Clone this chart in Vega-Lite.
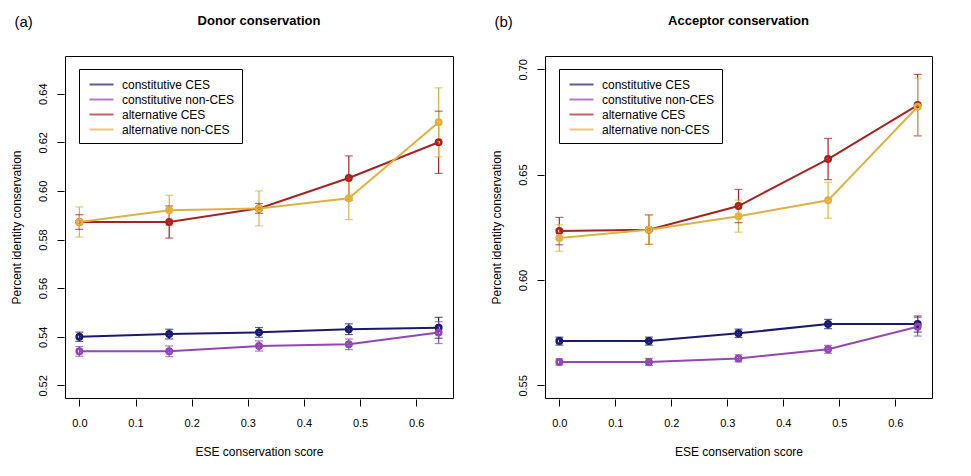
{
  "$schema": "https://vega.github.io/schema/vega-lite/v6.json",
  "background": "white",
  "padding": {"left": 9, "top": 14, "right": 5, "bottom": 5},
  "spacing": 35,
  "config": {
    "font": "Liberation Sans",
    "view": {"stroke": "black", "strokeWidth": 1},
    "axis": {"grid": false, "domain": false, "tickColor": "black", "tickSize": 7, "tickOffset": 0, "labelColor": "black", "titleColor": "black", "labelFontSize": 11, "titleFontSize": 12, "titleFontWeight": "normal", "labelFont": "Liberation Sans", "titleFont": "Liberation Sans"},
    "legend": {"title": null, "orient": "none", "legendX": 14, "legendY": 13, "direction": "vertical", "symbolType": "M-1.6,0L1.6,0", "symbolSize": 225, "symbolStrokeWidth": 2, "symbolOffset": 7, "labelFontSize": 12, "labelFont": "Liberation Sans", "labelColor": "black", "strokeColor": "black", "fillColor": "white", "padding": 7, "rowPadding": 0, "labelOffset": 12, "labelLimit": 300},
    "title": {"color": "black"}
  },
  "datasets": {
    "donor": [
      {"group": "constitutive CES", "score": 0, "value": 0.5400, "lo": 0.5381, "hi": 0.5419},
      {"group": "constitutive CES", "score": 0.16, "value": 0.5411, "lo": 0.5391, "hi": 0.5431},
      {"group": "constitutive CES", "score": 0.32, "value": 0.5418, "lo": 0.5398, "hi": 0.5438},
      {"group": "constitutive CES", "score": 0.48, "value": 0.5431, "lo": 0.5409, "hi": 0.5453},
      {"group": "constitutive CES", "score": 0.64, "value": 0.5437, "lo": 0.5394, "hi": 0.5480},
      {"group": "constitutive non-CES", "score": 0, "value": 0.5340, "lo": 0.5320, "hi": 0.5360},
      {"group": "constitutive non-CES", "score": 0.16, "value": 0.5340, "lo": 0.5318, "hi": 0.5362},
      {"group": "constitutive non-CES", "score": 0.32, "value": 0.5362, "lo": 0.5341, "hi": 0.5383},
      {"group": "constitutive non-CES", "score": 0.48, "value": 0.5369, "lo": 0.5347, "hi": 0.5391},
      {"group": "constitutive non-CES", "score": 0.64, "value": 0.5417, "lo": 0.5372, "hi": 0.5462},
      {"group": "alternative CES", "score": 0, "value": 0.5872, "lo": 0.5842, "hi": 0.5902},
      {"group": "alternative CES", "score": 0.16, "value": 0.5872, "lo": 0.5806, "hi": 0.5938},
      {"group": "alternative CES", "score": 0.32, "value": 0.5928, "lo": 0.5908, "hi": 0.5948},
      {"group": "alternative CES", "score": 0.48, "value": 0.6053, "lo": 0.5962, "hi": 0.6144},
      {"group": "alternative CES", "score": 0.64, "value": 0.6200, "lo": 0.6072, "hi": 0.6328},
      {"group": "alternative non-CES", "score": 0, "value": 0.5872, "lo": 0.5810, "hi": 0.5934},
      {"group": "alternative non-CES", "score": 0.16, "value": 0.5920, "lo": 0.5858, "hi": 0.5982},
      {"group": "alternative non-CES", "score": 0.32, "value": 0.5928, "lo": 0.5856, "hi": 0.6000},
      {"group": "alternative non-CES", "score": 0.48, "value": 0.5970, "lo": 0.5882, "hi": 0.6058},
      {"group": "alternative non-CES", "score": 0.64, "value": 0.6282, "lo": 0.6140, "hi": 0.6424}
    ],
    "acceptor": [
      {"group": "constitutive CES", "score": 0, "value": 0.5710, "lo": 0.5691, "hi": 0.5729},
      {"group": "constitutive CES", "score": 0.16, "value": 0.5710, "lo": 0.5691, "hi": 0.5729},
      {"group": "constitutive CES", "score": 0.32, "value": 0.5747, "lo": 0.5727, "hi": 0.5767},
      {"group": "constitutive CES", "score": 0.48, "value": 0.5791, "lo": 0.5769, "hi": 0.5813},
      {"group": "constitutive CES", "score": 0.64, "value": 0.5791, "lo": 0.5753, "hi": 0.5829},
      {"group": "constitutive non-CES", "score": 0, "value": 0.5611, "lo": 0.5596, "hi": 0.5626},
      {"group": "constitutive non-CES", "score": 0.16, "value": 0.5611, "lo": 0.5594, "hi": 0.5628},
      {"group": "constitutive non-CES", "score": 0.32, "value": 0.5628, "lo": 0.5611, "hi": 0.5645},
      {"group": "constitutive non-CES", "score": 0.48, "value": 0.5671, "lo": 0.5652, "hi": 0.5690},
      {"group": "constitutive non-CES", "score": 0.64, "value": 0.5778, "lo": 0.5734, "hi": 0.5822},
      {"group": "alternative CES", "score": 0, "value": 0.6232, "lo": 0.6167, "hi": 0.6297},
      {"group": "alternative CES", "score": 0.16, "value": 0.6239, "lo": 0.6169, "hi": 0.6309},
      {"group": "alternative CES", "score": 0.32, "value": 0.6351, "lo": 0.6272, "hi": 0.6430},
      {"group": "alternative CES", "score": 0.48, "value": 0.6574, "lo": 0.6476, "hi": 0.6672},
      {"group": "alternative CES", "score": 0.64, "value": 0.6830, "lo": 0.6684, "hi": 0.6976},
      {"group": "alternative non-CES", "score": 0, "value": 0.6199, "lo": 0.6136, "hi": 0.6262},
      {"group": "alternative non-CES", "score": 0.16, "value": 0.6239, "lo": 0.6169, "hi": 0.6309},
      {"group": "alternative non-CES", "score": 0.32, "value": 0.6303, "lo": 0.6227, "hi": 0.6379},
      {"group": "alternative non-CES", "score": 0.48, "value": 0.6378, "lo": 0.6293, "hi": 0.6463},
      {"group": "alternative non-CES", "score": 0.64, "value": 0.6822, "lo": 0.6686, "hi": 0.6958}
    ]
  },
  "resolve": {"scale": {"y": "independent", "color": "independent", "x": "independent"}, "legend": {"color": "independent"}},
  "hconcat": [
    {
      "title": {"text": "(a)", "anchor": "start", "frame": "bounds", "fontSize": 15, "fontWeight": "normal", "font": "Liberation Sans", "dx": 5, "offset": -15},
      "vconcat": [
        {
          "title": {"text": "Donor conservation", "anchor": "middle", "fontSize": 13, "fontWeight": "bold", "font": "Liberation Sans", "offset": 28},
          "width": 388,
          "height": 342,
          "data": {"name": "donor"},
          "encoding": {
            "x": {"field": "score", "type": "quantitative", "scale": {"domain": [-0.0256, 0.6656], "nice": false, "zero": false},
              "axis": {"values": [0, 0.1, 0.2, 0.3, 0.4, 0.5, 0.6], "format": ".1f", "title": "ESE conservation score", "offset": 1, "labelPadding": 11, "titlePadding": 18}},
            "color": {"field": "group", "type": "nominal",
              "scale": {"domain": ["constitutive CES", "constitutive non-CES", "alternative CES", "alternative non-CES"], "range": ["#1a1a6e", "#9446b4", "#a82222", "#e0b040"]}}
          },
          "layer": [
            {"mark": {"type": "rule", "strokeWidth": 1.2},
             "encoding": {"y": {"field": "lo", "type": "quantitative", "scale": {"domain": [0.5148, 0.6555], "nice": false, "zero": false},
                "axis": {"values": [0.52, 0.54, 0.56, 0.58, 0.6, 0.62, 0.64], "format": ".2f", "title": "Percent identity conservation", "labelAngle": -90, "labelAlign": "center", "labelBaseline": "bottom", "offset": 1, "labelPadding": 9, "titlePadding": 14}},
               "y2": {"field": "hi"}}},
            {"mark": {"type": "tick", "orient": "horizontal", "size": 8, "thickness": 1.2},
             "encoding": {"y": {"field": "lo", "type": "quantitative"}}},
            {"mark": {"type": "tick", "orient": "horizontal", "size": 8, "thickness": 1.2},
             "encoding": {"y": {"field": "hi", "type": "quantitative"}}},
            {"mark": {"type": "line", "strokeWidth": 2},
             "encoding": {"y": {"field": "value", "type": "quantitative"}}},
            {"mark": {"type": "point", "filled": false, "strokeWidth": 2.5, "size": 30, "opacity": 1},
             "encoding": {"y": {"field": "value", "type": "quantitative"}}}
          ]
        }
      ]
    },
    {
      "title": {"text": "(b)", "anchor": "start", "frame": "bounds", "fontSize": 15, "fontWeight": "normal", "font": "Liberation Sans", "dx": 5, "offset": -15},
      "vconcat": [
        {
          "title": {"text": "Acceptor conservation", "anchor": "middle", "fontSize": 13, "fontWeight": "bold", "font": "Liberation Sans", "offset": 28},
          "width": 387,
          "height": 342,
          "data": {"name": "acceptor"},
          "encoding": {
            "x": {"field": "score", "type": "quantitative", "scale": {"domain": [-0.0256, 0.6656], "nice": false, "zero": false},
              "axis": {"values": [0, 0.1, 0.2, 0.3, 0.4, 0.5, 0.6], "format": ".1f", "title": "ESE conservation score", "offset": 1, "labelPadding": 11, "titlePadding": 18}},
            "color": {"field": "group", "type": "nominal",
              "scale": {"domain": ["constitutive CES", "constitutive non-CES", "alternative CES", "alternative non-CES"], "range": ["#1a1a6e", "#9446b4", "#a82222", "#e0b040"]}}
          },
          "layer": [
            {"mark": {"type": "rule", "strokeWidth": 1.2},
             "encoding": {"y": {"field": "lo", "type": "quantitative", "scale": {"domain": [0.544, 0.7063], "nice": false, "zero": false},
                "axis": {"values": [0.55, 0.6, 0.65, 0.7], "format": ".2f", "title": "Percent identity conservation", "labelAngle": -90, "labelAlign": "center", "labelBaseline": "bottom", "offset": 1, "labelPadding": 9, "titlePadding": 14}},
               "y2": {"field": "hi"}}},
            {"mark": {"type": "tick", "orient": "horizontal", "size": 8, "thickness": 1.2},
             "encoding": {"y": {"field": "lo", "type": "quantitative"}}},
            {"mark": {"type": "tick", "orient": "horizontal", "size": 8, "thickness": 1.2},
             "encoding": {"y": {"field": "hi", "type": "quantitative"}}},
            {"mark": {"type": "line", "strokeWidth": 2},
             "encoding": {"y": {"field": "value", "type": "quantitative"}}},
            {"mark": {"type": "point", "filled": false, "strokeWidth": 2.5, "size": 30, "opacity": 1},
             "encoding": {"y": {"field": "value", "type": "quantitative"}}}
          ]
        }
      ]
    }
  ]
}
